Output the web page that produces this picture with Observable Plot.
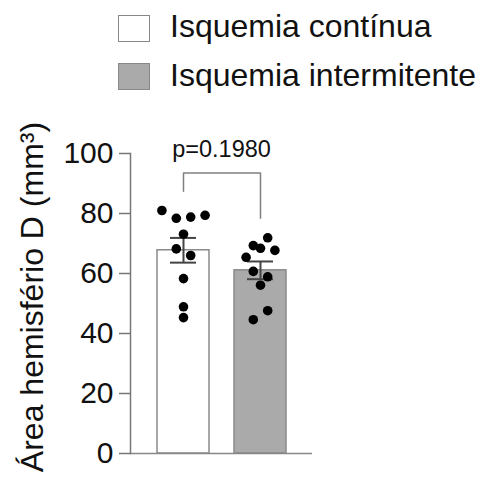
<!DOCTYPE html>
<html><head><meta charset="utf-8">
<script src="https://cdn.jsdelivr.net/npm/d3@7"></script>
<script src="https://cdn.jsdelivr.net/npm/@observablehq/plot@0.6"></script>
<style>
body{margin:0;background:#fff;font-family:"Liberation Sans",Arial,sans-serif;}
#wrap{position:relative;width:484px;height:477px;overflow:hidden;}
#legend{position:relative;width:484px;height:100px;}
.sw{position:absolute;left:118px;width:32px;height:27px;box-sizing:border-box;border:1.5px solid #888;}
.lab{position:absolute;left:170px;font-size:32px;line-height:32px;color:#111;white-space:nowrap;}
#chart svg{display:block;}
</style></head>
<body><div id="wrap"><div id="legend"></div><div id="chart"></div></div>
<script>
// ---- data ----
const groups = ["Isquemia contínua", "Isquemia intermitente"];
const continua = [81, 78.4, 78.8, 79.4, 73.1, 68.2, 66, 58.3, 48.9, 45.3];
const intermitente = [69.3, 71.9, 65.4, 68.4, 67.7, 60.7, 58.9, 56.1, 44.6, 47.6];
const fills = ["#ffffff", "#aaaaaa"];
const yTicks = [0, 20, 40, 60, 80, 100];
const yLabel = "Área hemisfério D (mm³)";
const pLabel = "p=0.1980";
const bracketTop = 93.5, bracketLeftEnd = 87.4, bracketRightEnd = 78.4;

// ---- layout ----
const W = 484, H = 377, mL = 130, mR = 172, mT = 53, mB = 24;
const pxPerUnit = (H - mT - mB) / 100;
const r = 4.8, step = 3 * r, rowGap = 2 * r + 0.4;

function swarm(vals, group) {
  const idx = d3.range(vals.length).sort((a, b) => vals[b] - vals[a]);
  const rows = []; let cur = null;
  for (const i of idx) {
    if (cur && (vals[cur[0]] - vals[i]) * pxPerUnit <= rowGap) cur.push(i);
    else { cur = [i]; rows.push(cur); }
  }
  const out = [];
  for (const row of rows) {
    row.sort((a, b) => a - b);
    row.forEach((i, k) => out.push({group, value: vals[i], off: (k - (row.length - 1) / 2) * step}));
  }
  return out;
}
const series = [continua, intermitente];
const points = series.flatMap((v, g) => swarm(v, groups[g]));
const summary = series.map((v, g) => {
  const m = d3.mean(v), se = d3.deviation(v) / Math.sqrt(v.length);
  return {group: groups[g], mean: m, lo: m - se, hi: m + se, fill: fills[g]};
});
const bracket = [
  {group: groups[0], value: bracketLeftEnd},
  {group: groups[0], value: bracketTop},
  {group: groups[1], value: bracketTop},
  {group: groups[1], value: bracketRightEnd}
];

// ---- legend ----
const legend = document.getElementById("legend");
groups.forEach((g, i) => {
  const sw = document.createElement("div");
  sw.className = "sw"; sw.style.top = (15 + i * 47.5) + "px"; sw.style.background = fills[i];
  const lab = document.createElement("div");
  lab.className = "lab"; lab.style.top = (10 + i * 49.3) + "px"; lab.textContent = g;
  legend.append(sw, lab);
});

// ---- chart ----
const dotMarks = Array.from(d3.group(points, d => d.off), ([off, arr]) =>
  Plot.dot(arr, {x: "group", y: "value", dx: off, r, fill: "#000", stroke: "none"}));

const chart = Plot.plot({
  width: W, height: H, marginLeft: mL, marginRight: mR, marginTop: mT, marginBottom: mB,
  style: {fontFamily: '"Liberation Sans", Arial, sans-serif', background: "white", overflow: "visible", color: "#111"},
  x: {domain: groups, paddingInner: 0.327, paddingOuter: 0.341, axis: null},
  y: {domain: [0, 100], label: null},
  color: {type: "identity"},
  marks: [
    Plot.barY(summary, {x: "group", y: "mean", fill: "fill", stroke: "#8a8a8a", strokeWidth: 1.5}),
    Plot.ruleY([0], {stroke: "#888", strokeWidth: 1.5}),
    Plot.frame({anchor: "left", stroke: "#777", strokeWidth: 1.5}),
    Plot.ruleX(summary, {x: "group", y1: "lo", y2: "hi", stroke: "#444", strokeWidth: 2}),
    Plot.tickY(summary, {x: "group", y: "lo", inset: 13, stroke: "#444", strokeWidth: 2}),
    Plot.tickY(summary, {x: "group", y: "hi", inset: 13, stroke: "#444", strokeWidth: 2}),
    ...dotMarks,
    Plot.line(bracket, {x: "group", y: "value", stroke: "#808080", strokeWidth: 1.5}),
    Plot.text([pLabel], {frameAnchor: "middle", y: () => bracketTop, text: d => d, lineAnchor: "bottom", dy: -16, fontSize: 23.5, fill: "#111"}),
    Plot.text([yLabel], {frameAnchor: "left", textAnchor: "middle", rotate: -90, dx: -98, dy: -6.5, text: d => d, fontSize: 32, fill: "#111"}),
    Plot.axisY({ticks: yTicks, tickSize: 11, tickPadding: 6, fontSize: 30, label: null, tickFormat: d => String(d), stroke: "#777", strokeWidth: 1.5, fill: "#111"})
  ]
});
document.getElementById("chart").append(chart);
</script></body></html>
